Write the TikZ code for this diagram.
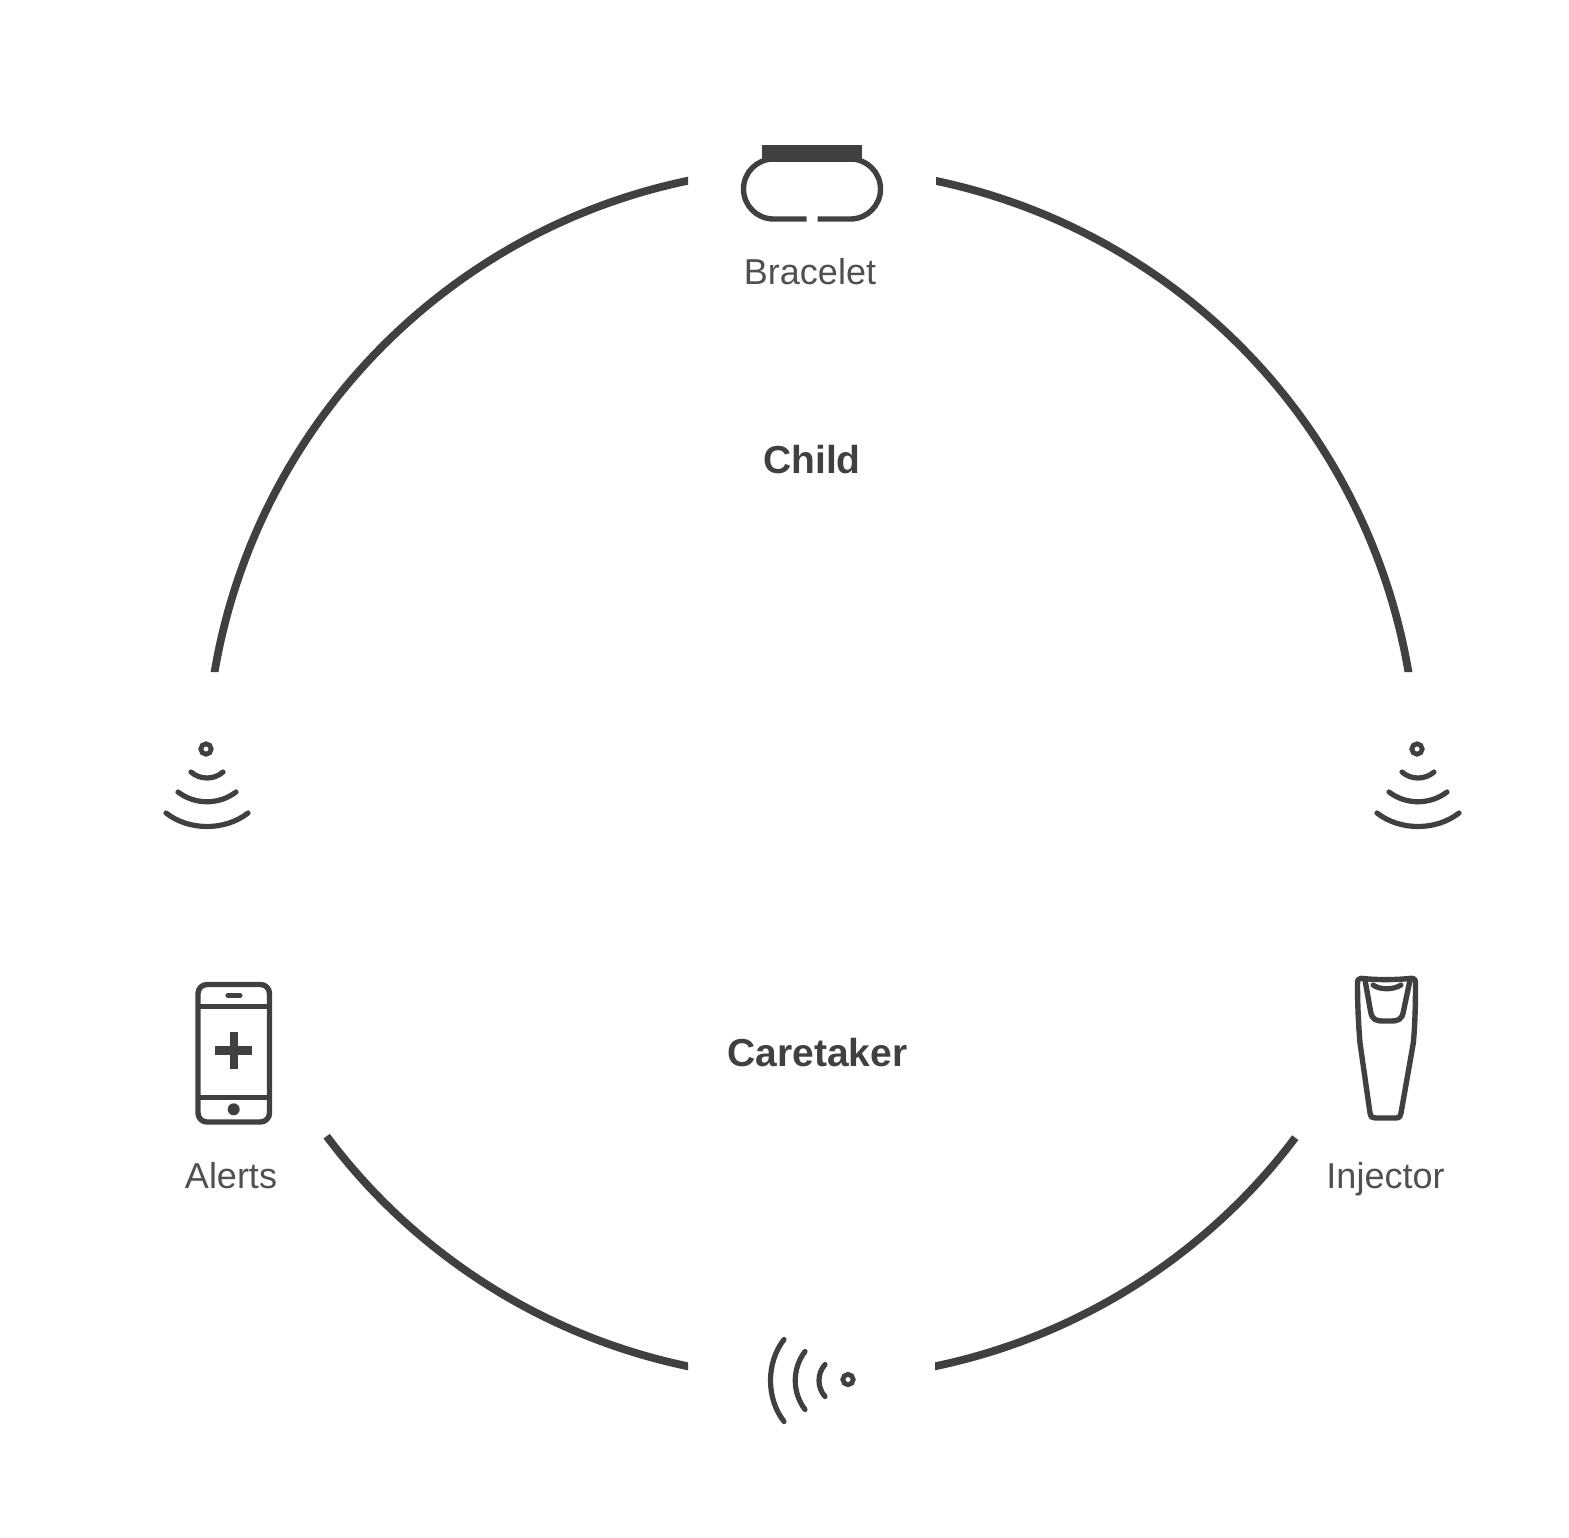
\documentclass[tikz,border=0pt]{standalone}
\usepackage{fontspec}
\setmainfont{Liberation Sans}
\definecolor{cinzaIcone}{RGB}{64,64,64}
\definecolor{cinzaTexto}{RGB}{80,80,80}
\usetikzlibrary{positioning,calc}
\tikzset{
  anel/.style={line width=3.9pt, cinzaIcone},
  icone/.style={line width=2.7pt, cinzaIcone, line join=round},
  onda/.style={line width=2.6pt, cinzaIcone, line cap=round},
  rotulo/.style={font=\fontsize{18}{20}\selectfont, text=cinzaTexto, inner sep=0pt, anchor=base},
  titulo/.style={font=\fontsize{19.5}{22}\selectfont\bfseries, text=cinzaIcone, inner sep=0pt, anchor=base},
  sinal/.pic={
    \draw[cinzaIcone, line width=2.4pt] (0,0) circle[radius=5.2];
    \draw[onda] (-15,23) .. controls (-6,31) and (8,31) .. (17,23);
    \draw[onda] (-28,43) .. controls (-11,56) and (13,56) .. (30,43);
    \draw[onda] (-40,64) .. controls (-17,82) and (19,82) .. (42,64);
  },
}
\begin{document}
\begin{tikzpicture}[x=0.5pt, y=-0.5pt]
  \useasboundingbox (0,0) rectangle (1569,1537);
  \coordinate (centro) at (811.5,773.5);

  \begin{scope}
    \clip (0,0) rectangle (688,672) (936,0) rectangle (1569,672)
          (0,900) rectangle (688,1537) (935,900) rectangle (1569,1537);
    \foreach \ini/\fim in {188/260, 280/352, 36.97/80, 100/143.2}
      \draw[anel] ([shift={(\ini:605.5)}]centro) arc[start angle=\ini, end angle=\fim, radius=605.5];
  \end{scope}

  \draw[icone] (806.7,219) -- (773.5,219) arc[start angle=90, end angle=270, radius=30]
        -- (850.5,159) arc[start angle=270, end angle=450, radius=30] -- (817.7,219);
  \fill[cinzaIcone] (762.3,145) rectangle (861.7,161.5);

  \draw[icone] (198,993.5) arc[start angle=180, end angle=270, radius=9] -- (260.5,984.5)
        arc[start angle=270, end angle=360, radius=9] -- (269.5,1113)
        arc[start angle=0, end angle=90, radius=9] -- (207,1122)
        arc[start angle=90, end angle=180, radius=9] -- cycle;
  \draw[icone] (198,1006.3) -- (269.5,1006.3) (198,1097.7) -- (269.5,1097.7);
  \draw[onda] (228,995.7) -- (240,995.7);
  \draw[cinzaIcone, line width=4.2pt] (215.3,1050.3) -- (252.3,1050.3) (233.7,1032.3) -- (233.7,1069);
  \fill[cinzaIcone] (233.7,1109.3) circle[radius=6];

  \draw[icone] (1361,978.3) .. controls (1375,980) and (1397,980) .. (1411,978.3)
        .. controls (1415,978.3) and (1415.5,980) .. (1415.5,984)
        .. controls (1415.5,1005) and (1415,1025) .. (1413.3,1043)
        -- (1401,1113) .. controls (1400,1118) and (1398,1118) .. (1396,1118)
        -- (1376,1118) .. controls (1373,1118) and (1371,1118) .. (1370,1113)
        -- (1360,1043) .. controls (1358.5,1025) and (1357.5,1005) .. (1357.5,984)
        .. controls (1357.5,980) and (1358,978.3) .. (1361,978.3) -- cycle;
  \draw[icone] (1365,980) -- (1370.5,1011) .. controls (1372,1020) and (1376,1021) .. (1384,1021)
        -- (1390,1021) .. controls (1398,1021) and (1402,1020) .. (1403.5,1011) -- (1410,980);
  \draw[onda] (1373,985) .. controls (1380,990) and (1393,990) .. (1401,985);

  \pic at (206,749) {sinal};
  \pic at (1417,749) {sinal};
  \pic[rotate=-90] at (848,1379.5) {sinal};

  \node[rotulo] (bracelet) at (810,284.5) {Bracelet};
  \node[titulo] (child) at (812,473) {Child};
  \node[titulo] (caretaker) at (817.5,1066) {Caretaker};
  \node[rotulo] (alerts) at (231,1188) {Alerts};
  \node[rotulo] (injector) at (1385.5,1188) {Injector};
\end{tikzpicture}
\end{document}
